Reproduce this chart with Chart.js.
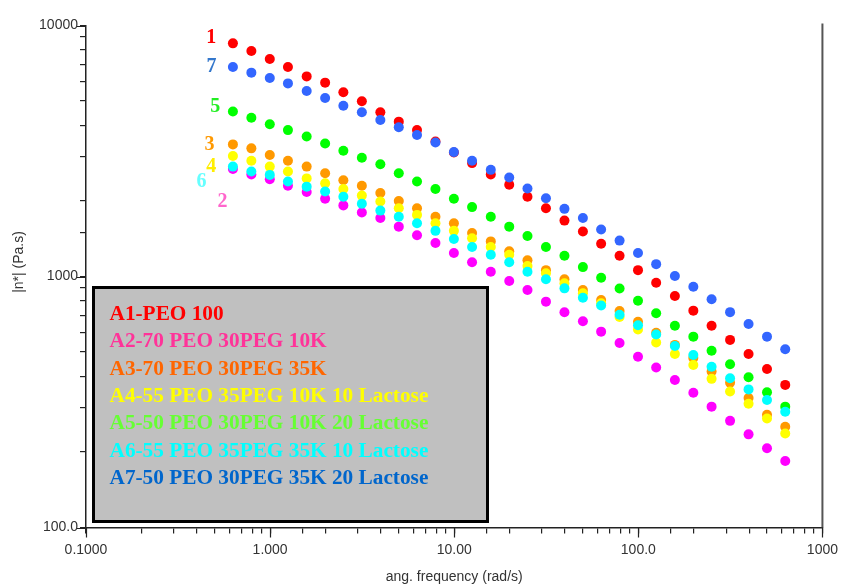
<!DOCTYPE html>
<html>
<head>
<meta charset="utf-8">
<script src="https://cdn.jsdelivr.net/npm/chart.js@4.4.1/dist/chart.umd.min.js"></script>
<style>
  html, body { margin: 0; padding: 0; background: #fff; }
  #wrap { width: 846px; height: 586px; }
</style>
</head>
<body>
<div id="wrap"><canvas id="visc" width="846" height="586"></canvas></div>
<script>
// angular frequency (rad/s)
const freq = [0.628, 0.791, 0.996, 1.25, 1.58, 1.99, 2.50, 3.15, 3.97, 5.00,
  6.28, 7.91, 9.96, 12.5, 15.8, 19.9, 25.0, 31.5, 39.7, 50.0,
  62.8, 79.1, 99.6, 125, 158, 199, 250, 315, 397, 500, 628];

// |n*| (Pa.s) per sample
const a1 = [8490, 7910, 7360, 6830, 6270, 5920, 5420, 4990, 4510, 4140, 3830, 3450, 3120, 2830, 2550, 2320, 2080, 1870, 1670, 1510, 1350, 1210, 1060, 945, 836, 731, 636, 559, 491, 428, 370];
const a2 = [2680, 2550, 2440, 2300, 2170, 2040, 1920, 1800, 1710, 1580, 1460, 1360, 1240, 1140, 1045, 960, 884, 794, 720, 663, 603, 543, 479, 434, 387, 344, 303, 266, 235, 207, 184];
const a3 = [3360, 3240, 3050, 2890, 2740, 2580, 2420, 2300, 2150, 2000, 1870, 1730, 1630, 1490, 1380, 1260, 1160, 1060, 975, 884, 806, 729, 660, 597, 534, 474, 418, 377, 328, 281, 252];
const a4 = [3020, 2890, 2740, 2620, 2460, 2350, 2230, 2100, 1990, 1870, 1760, 1630, 1520, 1420, 1310, 1220, 1100, 1030, 940, 858, 782, 690, 615, 546, 491, 444, 391, 348, 311, 272, 237];
const a5 = [4540, 4290, 4040, 3830, 3610, 3390, 3170, 2970, 2800, 2580, 2390, 2230, 2040, 1890, 1730, 1580, 1450, 1310, 1210, 1090, 989, 896, 800, 714, 637, 576, 506, 447, 397, 346, 303];
const a6 = [2740, 2620, 2540, 2390, 2280, 2180, 2080, 1950, 1830, 1730, 1630, 1520, 1410, 1310, 1220, 1140, 1045, 975, 897, 823, 767, 704, 639, 587, 529, 487, 437, 393, 355, 322, 289];
const a7 = [6830, 6490, 6180, 5880, 5480, 5140, 4790, 4510, 4200, 3930, 3660, 3420, 3130, 2890, 2660, 2480, 2240, 2050, 1860, 1710, 1540, 1390, 1240, 1120, 1005, 911, 811, 721, 647, 576, 513];

const sampleNames = ['A1-PEO 100', 'A2-70 PEO 30PEG 10K', 'A3-70 PEO 30PEG 35K',
  'A4-55 PEO 35PEG 10K 10 Lactose', 'A5-50 PEO 30PEG 10K 20 Lactose',
  'A6-55 PEO 35PEG 35K 10 Lactose', 'A7-50 PEO 30PEG 35K 20 Lactose'];
const curveTags = ['1', '2', '3', '4', '5', '6', '7'];

const xTickValues = [0.1, 1, 10, 100, 1000];
const xTickLabels = ['0.1000', '1.000', '10.00', '100.0', '1000'];
const yTickValues = [100, 1000, 10000];
const yTickLabels = ['100.0', '1000', '10000'];
const yTitle = '|n*| (Pa.s)';

// styling
const dotColors = ['#ff0000', '#ff00ff', '#ff9900', '#ffff00', '#00ff00', '#00ffff', '#3366ff'];
const nameColors = ['#ff0000', '#ff3399', '#ff6600', '#ffff00', '#66ff33', '#00ffff', '#0066cc'];
const tagColors = ['#ff0000', '#ff66cc', '#ff9900', '#ffee00', '#22ee22', '#66ffff', '#3377cc'];
// tag offset from first point of each curve (left edge, baseline)
const tagOffsets = [[-26.6, -0.6], [-15.3, 37.7], [-28.3, 5.7], [-26.6, 15.7], [-22.6, 0], [-36.3, 20], [-26.3, 4.7]];

const series = [a1, a2, a3, a4, a5, a6, a7];
const axisFont = {family: '"Liberation Sans", Arial, sans-serif', size: 14};

function pick(values, labels, v) {
  for (var i = 0; i < values.length; i++) {
    if (Math.abs(Math.log10(v) - Math.log10(values[i])) < 1e-6) return labels[i];
  }
  return '';
}

const datasets = series.map(function(vals, i) {
  return {
    label: sampleNames[i],
    data: vals.map(function(v, k) { return {x: freq[k], y: v}; }),
    backgroundColor: dotColors[i],
    borderWidth: 0,
    pointRadius: 5,
    pointStyle: 'circle',
    order: 7 - i   // later samples drawn on top
  };
});

const decor = {
  id: 'decor',
  beforeDraw: function(chart) {
    const ctx = chart.ctx;
    ctx.save();
    ctx.fillStyle = '#ffffff';
    ctx.fillRect(0, 0, chart.width, chart.height);
    ctx.restore();
  },
  afterDraw: function(chart) {
    const ctx = chart.ctx;
    const area = chart.chartArea;
    const xs = chart.scales.x, ys = chart.scales.y;
    ctx.save();
    // right frame line
    ctx.strokeStyle = '#555555';
    ctx.lineWidth = 2;
    ctx.beginPath();
    ctx.moveTo(area.right, area.top - 2);
    ctx.lineTo(area.right, area.bottom);
    ctx.stroke();

    // longer ticks at the decades
    ctx.strokeStyle = '#222222';
    ctx.lineWidth = 1.2;
    ctx.beginPath();
    xTickValues.forEach(function(v) {
      const px = Math.round(xs.getPixelForValue(v)) + 0.5;
      ctx.moveTo(px, area.bottom);
      ctx.lineTo(px, area.bottom + 10);
    });
    yTickValues.forEach(function(v) {
      const py = Math.round(ys.getPixelForValue(v)) + 0.5;
      ctx.moveTo(area.left, py);
      ctx.lineTo(area.left - 9, py);
    });
    ctx.stroke();

    // y axis title
    ctx.fillStyle = '#333333';
    ctx.font = '14px "Liberation Sans", Arial, sans-serif';
    ctx.textAlign = 'center';
    ctx.textBaseline = 'middle';
    ctx.translate(19, 262);
    ctx.rotate(-Math.PI / 2);
    ctx.fillText(yTitle, 0, 0);
    ctx.restore();
  },
  afterDatasetsDraw: function(chart) {
    const ctx = chart.ctx;
    const xs = chart.scales.x, ys = chart.scales.y;
    ctx.save();
    // curve numbers next to the first point
    ctx.font = 'bold 20px "Liberation Serif", "Times New Roman", serif';
    ctx.textBaseline = 'alphabetic';
    ctx.textAlign = 'left';
    series.forEach(function(vals, i) {
      const px = xs.getPixelForValue(freq[0]);
      const py = ys.getPixelForValue(vals[0]);
      ctx.fillStyle = tagColors[i];
      ctx.fillText(curveTags[i], px + tagOffsets[i][0], py + tagOffsets[i][1]);
    });

    // legend box
    ctx.fillStyle = '#c0c0c0';
    ctx.fillRect(92, 286, 397, 237);
    ctx.strokeStyle = '#000000';
    ctx.lineWidth = 3;
    ctx.strokeRect(93.5, 287.5, 394, 234);
    ctx.font = 'bold 21.3px "Liberation Serif", "Times New Roman", serif';
    sampleNames.forEach(function(name, i) {
      ctx.fillStyle = nameColors[i];
      ctx.fillText(name, 109.5, 320 + i * 27.3);
    });
    ctx.restore();
  }
};

new Chart(document.getElementById('visc'), {
  type: 'scatter',
  data: {datasets: datasets},
  options: {
    responsive: false,
    animation: false,
    events: [],
    layout: {padding: {top: 25.5, right: 23, left: 0, bottom: 0}},
    plugins: {legend: {display: false}, tooltip: {enabled: false}},
    scales: {
      x: {
        type: 'logarithmic',
        min: 0.1,
        max: 1000,
        afterFit: function(scale) { scale.height = 58.5; },
        border: {display: true, color: '#222222', width: 1.5},
        grid: {drawOnChartArea: false, drawTicks: true, tickLength: 6, color: '#222222', lineWidth: 1.2},
        ticks: {
          autoSkip: false, maxRotation: 0, padding: 8,
          color: '#333333', font: axisFont,
          callback: function(v) { return pick(xTickValues, xTickLabels, v); }
        },
        title: {display: true, text: 'ang. frequency (rad/s)', color: '#333333', font: axisFont, padding: {top: 0, bottom: 0}}
      },
      y: {
        type: 'logarithmic',
        min: 100,
        max: 10000,
        afterFit: function(scale) { scale.width = 86; },
        border: {display: true, color: '#222222', width: 1.5},
        grid: {drawOnChartArea: false, drawTicks: true, tickLength: 6, color: '#222222', lineWidth: 1.2},
        ticks: {
          autoSkip: false, padding: 2,
          color: '#333333', font: axisFont,
          callback: function(v) { return pick(yTickValues, yTickLabels, v); }
        },
        title: {display: false}
      }
    }
  },
  plugins: [decor]
});
</script>
</body>
</html>
